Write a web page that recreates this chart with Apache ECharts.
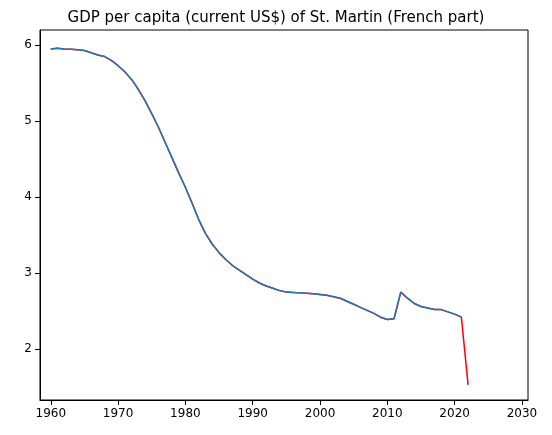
<!DOCTYPE html>
<html><head><meta charset="utf-8">
<script src="https://cdn.jsdelivr.net/npm/echarts@6/dist/echarts.min.js"></script>
<style>body{margin:0}#c{width:552px;height:435px}</style></head>
<body><div id="c"></div>
<script>
const years = [];
for (let y = 1960; y <= 2022; y++) years.push(y);
const values = [5.95,5.96,5.95,5.945,5.94,5.93,5.9,5.87,5.85,5.8,5.73,5.65,5.55,5.42,5.27,5.1,4.92,4.72,4.52,4.32,
  4.13,3.92,3.7,3.52,3.38,3.27,3.18,3.1,3.04,2.98,2.92,2.87,2.83,2.8,2.77,2.75,2.745,2.74,2.735,2.73,
  2.72,2.71,2.69,2.67,2.63,2.59,2.55,2.51,2.47,2.42,2.39,2.4,2.75,2.67,2.6,2.56,2.54,2.52,2.52,2.49,
  2.46,2.42,1.53];
const xTicks = [1960,1970,1980,1990,2000,2010,2020,2030];
const yTicks = [2,3,4,5,6];
const all = years.map((y,i)=>[y,values[i]]);
const blue = all.slice(0, all.length-1);
const font = 'DejaVu Sans';
const chart = echarts.init(document.getElementById('c'));
chart.setOption({
  animation:false,
  title:{text:'GDP per capita (current US$) of St. Martin (French part)',left:'center',top:6,
    textStyle:{fontFamily:font,fontSize:15,fontWeight:'normal',color:'#000'}},
  grid:{left:40,right:24,top:30,bottom:35},
  xAxis:{type:'value',min:1958.4,max:2030.9,
    axisLine:{onZero:false,lineStyle:{color:'#000'}},splitLine:{show:false},
    axisTick:{customValues:xTicks,lineStyle:{color:'#000'}},
    axisLabel:{customValues:xTicks,formatter:v=>String(v),color:'#000',fontFamily:font,fontSize:12}},
  yAxis:{type:'value',min:1.33,max:6.2,
    axisLine:{show:true,lineStyle:{color:'#000'}},splitLine:{show:false},
    axisTick:{show:true,customValues:yTicks,lineStyle:{color:'#000'}},
    axisLabel:{customValues:yTicks,color:'#000',fontFamily:font,fontSize:12}},
  series:[
    {type:'line',data:all,showSymbol:false,lineStyle:{color:'#ff0000',width:1.5}},
    {type:'line',data:blue,showSymbol:false,lineStyle:{color:'#1f77b4',width:1.5}}
  ],
  graphic:[{type:'rect',shape:{x:40,y:30,width:488,height:370},style:{fill:null,stroke:'#000',lineWidth:1}}]
});
</script></body></html>
